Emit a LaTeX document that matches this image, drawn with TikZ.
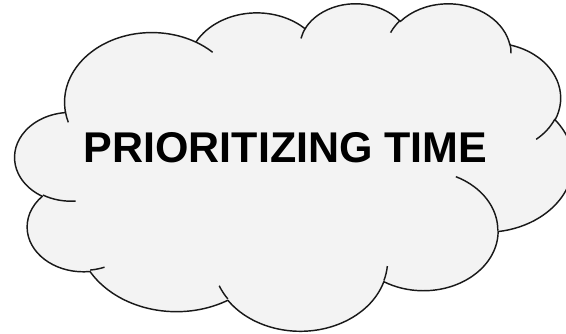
\documentclass[tikz,border=0pt]{standalone}
\usepackage{fontspec}
\setmainfont{Liberation Sans}
\definecolor{cloudfill}{RGB}{243,243,243}

% one lobe of the cloud: radii and angles as in the slide's cloud shape
\newcommand\lobe[4]{arc[start angle={-pa(#1,#2,#3)},
  delta angle={-sweep(#1,#2,#3,#4)},
  x radius={#1*12.91667pt}, y radius={#2*7.5787pt}]}

\begin{document}
\begin{tikzpicture}[
  x=1pt, y=1pt,
  declare function={
    pa(\rw,\rh,\an)=atan2(\rw*sin(\an),\rh*cos(\an));
    sweep(\rw,\rh,\an,\sw)=ifthenelse(\sw>0,
      mod(pa(\rw,\rh,\an+\sw)-pa(\rw,\rh,\an)+720,360),
      mod(pa(\rw,\rh,\an+\sw)-pa(\rw,\rh,\an)+720,360)-360);
  },
  cloudline/.style={draw=black!90, line width=1.45pt, line join=round},
  title/.style={font=\fontsize{43}{50}\selectfont\bfseries, anchor=base},
  ]
  \useasboundingbox (0,0) rectangle (566,334);

  \begin{scope}[shift={(15,331.3)}, x=12.91667pt, y=-7.5787pt]
    % outline
    \filldraw[cloudline, fill=cloudfill] (3.900,14.370)
      \lobe{6.753}{9.190}{-190.48748}{123.78053}
      \lobe{5.333}{7.267}{-144.10238}{89.94523}
      \lobe{4.365}{5.945}{-145.80792}{99.72302}
      \lobe{4.857}{6.595}{-130.98607}{117.24173}
      \lobe{5.333}{7.273}{-78.70888}{109.02692}
      \lobe{6.775}{9.220}{-46.26725}{130.269}
      \lobe{5.785}{7.867}{0.62502}{114.03333}
      \lobe{6.752}{9.215}{22.4516}{115.17255}
      \lobe{7.720}{10.543}{66.24263}{75.71102}
      \lobe{4.360}{5.918}{-274.94208}{146.73557}
      \lobe{4.345}{5.945}{-246.8285}{152.51885}
      -- cycle;
    % inner strokes
    \draw[cloudline]
      (4.693,26.177) \lobe{4.345}{5.945}{86.742}{26.4295}
      (6.928,34.899) \lobe{4.360}{5.918}{73.6105}{11.4475}
      (16.478,39.090) \lobe{6.752}{9.215}{137.6242}{14.0811}
      (28.827,34.751) \lobe{6.752}{9.215}{6.4533}{15.9984}
      (34.129,22.954) \lobe{5.785}{7.867}{-70.2924}{70.9174}
      (41.798,15.354) \lobe{5.333}{7.273}{30.318}{27.7515}
      (38.324,5.426) \lobe{4.857}{6.595}{-13.7443}{14.8524}
      (29.078,3.952) \lobe{4.857}{6.595}{-149.1815}{18.1934}
      (22.141,4.720) \lobe{4.365}{5.945}{-163.4943}{17.6834}
      (14.000,5.192) \lobe{6.753}{9.190}{-66.707}{12.3194}
      (4.127,15.789) \lobe{6.753}{9.190}{157.6544}{11.8582};
  \end{scope}

  \node[title] (label) at (285.5,171) {PRIORITIZING TIME};
\end{tikzpicture}
\end{document}
